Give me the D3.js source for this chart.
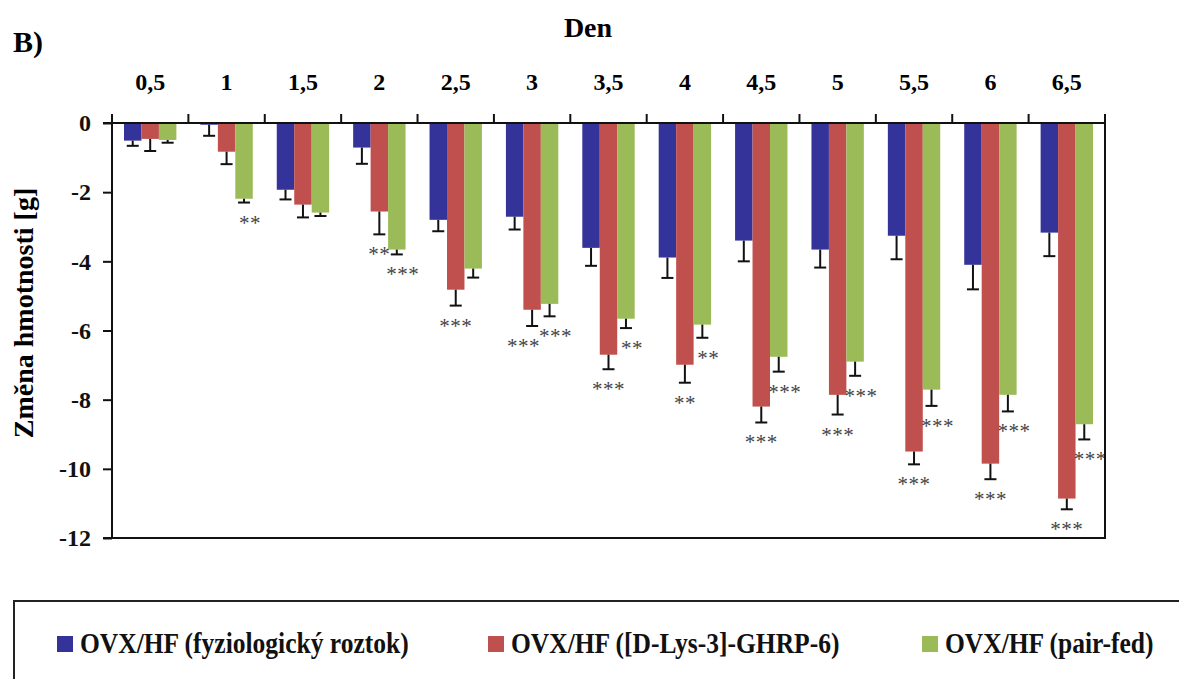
<!DOCTYPE html>
<html>
<head>
<meta charset="utf-8">
<script src="https://cdn.jsdelivr.net/npm/d3@7"></script>
<style>
  html, body { margin: 0; padding: 0; background: #fff; }
  svg { display: block; }
  text { font-family: "Liberation Serif", "Times New Roman", serif; }
</style>
</head>
<body>
<svg id="chart" width="1179" height="679"></svg>
<script>
// Days after start of treatment
const days = ["0,5", "1", "1,5", "2", "2,5", "3", "3,5", "4", "4,5", "5", "5,5", "6", "6,5"];

// Mean body weight change [g] and SEM for each group
const salineMean  = [-0.51, -0.05, -1.93, -0.71, -2.80, -2.71, -3.61, -3.89, -3.40, -3.66, -3.26, -4.10, -3.17];
const salineSem   = [0.15, 0.32, 0.28, 0.47, 0.33, 0.37, 0.52, 0.59, 0.60, 0.52, 0.68, 0.71, 0.68];
const antagMean   = [-0.46, -0.83, -2.36, -2.56, -4.82, -5.40, -6.70, -6.99, -8.20, -7.86, -9.50, -9.85, -10.86];
const antagSem    = [0.35, 0.36, 0.37, 0.66, 0.46, 0.47, 0.42, 0.52, 0.46, 0.57, 0.37, 0.45, 0.31];
const pairFedMean = [-0.49, -2.19, -2.59, -3.66, -4.21, -5.23, -5.66, -5.83, -6.76, -6.90, -7.71, -7.86, -8.71];
const pairFedSem  = [0.08, 0.11, 0.10, 0.14, 0.26, 0.36, 0.27, 0.38, 0.43, 0.41, 0.47, 0.48, 0.44];

// Significance vs. saline group
const antagSig   = ["", "", "", "**", "***", "***", "***", "**", "***", "***", "***", "***", "***"];
const pairFedSig = ["", "**", "", "***", "", "***", "**", "**", "***", "***", "***", "***", "***"];

const seriesNames = ["OVX/HF (fyziologický roztok)", "OVX/HF ([D-Lys-3]-GHRP-6)", "OVX/HF (pair-fed)"];
const yTicks = [0, -2, -4, -6, -8, -10, -12];

const colors = ["#333399", "#C0504D", "#9BBB59"];

const series = [
  { name: seriesNames[0], mean: salineMean,  sem: salineSem,  sig: null,       color: colors[0], starDx: 0 },
  { name: seriesNames[1], mean: antagMean,   sem: antagSem,   sig: antagSig,   color: colors[1], starDx: 0 },
  { name: seriesNames[2], mean: pairFedMean, sem: pairFedSem, sig: pairFedSig, color: colors[2], starDx: 6 }
];

const svg = d3.select("#chart");

const plot = { left: 112, right: 1105, top: 123, bottom: 538 };

const x = d3.scaleBand().domain(days).range([plot.left, plot.right]).paddingInner(0).paddingOuter(0);
const groupPad = 12;
const xs = d3.scaleBand().domain(d3.range(series.length))
  .range([groupPad, x.bandwidth() - groupPad]).padding(0);
const y = d3.scaleLinear().domain([0, -12]).range([plot.top, plot.bottom]);

// Panel letter and axis titles
svg.append("text").attr("x", 13).attr("y", 52)
  .attr("font-size", 30).attr("font-weight", "bold").text("B)");

svg.append("text").attr("x", 588).attr("y", 37).attr("text-anchor", "middle")
  .attr("font-size", 28).attr("font-weight", "bold").text("Den");

svg.append("text")
  .attr("transform", `translate(33, 313) rotate(-90)`)
  .attr("text-anchor", "middle").attr("font-size", 28).attr("font-weight", "bold")
  .text("Změna hmotnosti [g]");

// Category labels above the zero line
svg.append("g").selectAll("text").data(days).join("text")
  .attr("x", d => x(d) + x.bandwidth() / 2)
  .attr("y", 90)
  .attr("text-anchor", "middle")
  .attr("font-size", 24).attr("font-weight", "bold")
  .text(d => d);

// Bars
const groups = svg.append("g").selectAll("g").data(series).join("g");
groups.each(function (s, si) {
  const g = d3.select(this);
  g.selectAll("rect").data(days).join("rect")
    .attr("x", (d, i) => x(d) + xs(si))
    .attr("y", y(0))
    .attr("width", xs.bandwidth())
    .attr("height", (d, i) => y(s.mean[i]) - y(0))
    .attr("fill", s.color);
});

// Error bars (downward only)
const capW = 12;
series.forEach((s, si) => {
  const eg = svg.append("g").attr("stroke", "#111").attr("stroke-width", 2);
  days.forEach((d, i) => {
    const cx = x(d) + xs(si) + xs.bandwidth() / 2;
    const y0 = y(s.mean[i]);
    const y1 = y(s.mean[i] - s.sem[i]);
    eg.append("line").attr("x1", cx).attr("x2", cx).attr("y1", y0).attr("y2", y1);
    eg.append("line").attr("x1", cx - capW / 2).attr("x2", cx + capW / 2).attr("y1", y1).attr("y2", y1);
  });
});

// Significance asterisks, placed under the error bar caps;
// a red label that would collide with the green one is nudged left.
const starSize = 21;
const starAdvance = 10;
const starLabels = [];
series.forEach((s, si) => {
  if (!s.sig) return;
  days.forEach((d, i) => {
    if (!s.sig[i]) return;
    starLabels.push({
      si, i, text: s.sig[i],
      cx: x(d) + xs(si) + xs.bandwidth() / 2 + s.starDx,
      cy: y(s.mean[i] - s.sem[i]) + 18
    });
  });
});
starLabels.forEach(a => {
  if (a.si !== 1) return;
  const b = starLabels.find(o => o.si === 2 && o.i === a.i);
  if (!b) return;
  const wa = a.text.length * starAdvance, wb = b.text.length * starAdvance;
  const overlapX = (a.cx + wa / 2) - (b.cx - wb / 2);
  if (Math.abs(a.cy - b.cy) < 18 && overlapX > -2) a.cx -= overlapX + 2;
});
svg.append("g").selectAll("text").data(starLabels).join("text")
  .attr("x", d => d.cx)
  .attr("y", d => d.cy + 9)
  .attr("text-anchor", "middle")
  .attr("font-size", starSize)
  .attr("letter-spacing", 0.5)
  .attr("fill", "#444")
  .text(d => d.text);

// Axes and frame
const axisG = svg.append("g").attr("stroke", "#111").attr("stroke-width", 2).attr("fill", "none");
axisG.append("line").attr("x1", plot.left).attr("x2", plot.left).attr("y1", plot.top - 1).attr("y2", plot.bottom);
axisG.append("line").attr("x1", plot.left - 9).attr("x2", plot.right).attr("y1", y(0)).attr("y2", y(0));
axisG.append("line").attr("x1", plot.right).attr("x2", plot.right).attr("y1", plot.top - 9).attr("y2", plot.bottom + 1);
axisG.append("line").attr("x1", plot.left - 9).attr("x2", plot.right + 1).attr("y1", plot.bottom).attr("y2", plot.bottom);
// category boundary ticks on the zero line
axisG.selectAll("line.ct").data(days.concat(["end"])).join("line").attr("class", "ct")
  .attr("x1", (d, i) => i < days.length ? x(d) : plot.right)
  .attr("x2", (d, i) => i < days.length ? x(d) : plot.right)
  .attr("y1", plot.top - 9).attr("y2", plot.top);

// y axis ticks and labels
const yAxis = d3.axisLeft(y).tickValues(yTicks).tickSize(9).tickPadding(12)
  .tickFormat(d => String(d));
const ya = svg.append("g").attr("transform", `translate(${plot.left},0)`).call(yAxis);
ya.select(".domain").remove();
ya.selectAll(".tick line").attr("stroke", "#111").attr("stroke-width", 2);
ya.selectAll(".tick text").attr("font-size", 24).attr("font-weight", "bold")
  .attr("fill", "#111").attr("font-family", "Liberation Serif, Times New Roman, serif");

// Legend (frame runs past the right and bottom edges)
const legend = svg.append("g");
legend.append("rect").attr("x", 14).attr("y", 601).attr("width", 1200).attr("height", 120)
  .attr("fill", "none").attr("stroke", "#222").attr("stroke-width", 2);
const legendX = [57, 488, 922];
series.forEach((s, si) => {
  legend.append("rect").attr("x", legendX[si]).attr("y", 636).attr("width", 16).attr("height", 16).attr("fill", s.color);
  legend.append("text")
    .attr("transform", `translate(${legendX[si] + 23}, 653) scale(0.88, 1)`)
    .attr("font-size", 29).attr("font-weight", "bold").attr("fill", "#111")
    .text(s.name);
});
</script>
</body>
</html>
